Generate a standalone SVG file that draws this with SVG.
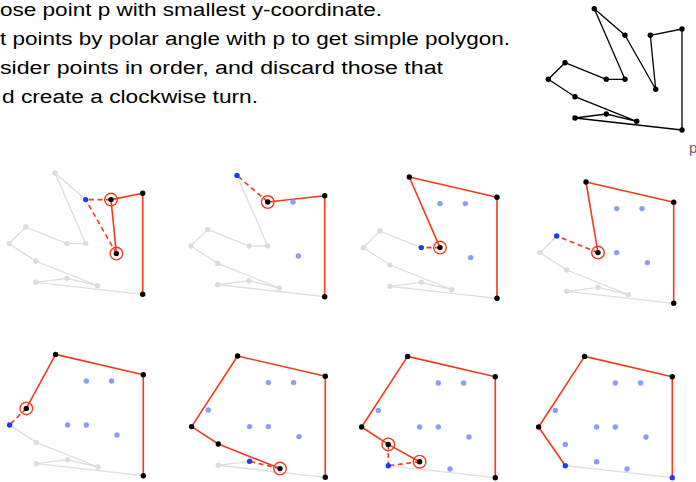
<svg xmlns="http://www.w3.org/2000/svg" width="696" height="482" viewBox="0 0 696 482">
<style>
.t{font-family:"Liberation Sans",Arial,sans-serif;font-size:18px;fill:#000}
.pl{font-family:"Liberation Sans",Arial,sans-serif;font-size:15px;fill:#666}
.bl{fill:none;stroke:#000;stroke-width:1.3;stroke-linejoin:round}
.gl{fill:none;stroke:#dedede;stroke-width:1.3;stroke-linejoin:round}
.rl{fill:none;stroke:#f23a1c;stroke-width:1.6;stroke-linejoin:round}
.rd{fill:none;stroke:#f23a1c;stroke-width:1.6;stroke-dasharray:5 3.5}
.k{fill:#000}
.g{fill:#dcdcdc}
.lb{fill:#8a9cff}
.b{fill:#1f3cf5}
.ring{fill:none;stroke:#f23a1c;stroke-width:1.4}
</style>
<rect width="696" height="482" fill="#fff"/>
<g id="text">
<text class="t" x="0" y="16" textLength="382" lengthAdjust="spacingAndGlyphs">ose point p with smallest y-coordinate.</text>
<text class="t" x="0" y="45" textLength="510" lengthAdjust="spacingAndGlyphs">t points by polar angle with p to get simple polygon.</text>
<text class="t" x="0" y="74" textLength="443" lengthAdjust="spacingAndGlyphs">sider points in order, and discard those that</text>
<text class="t" x="2" y="103" textLength="256" lengthAdjust="spacingAndGlyphs">d create a clockwise turn.</text>
<text class="pl" x="689" y="153">p</text>
</g>
<g id="polygon" transform="translate(682,130)">
<g id="polygon-edges"><polygon class="bl" points="0,0 0,-101 -31.7,-94.7 -26.3,-40.7 -57,-94.7 -87.7,-121.3 -57,-50.7 -75.7,-50.7 -117,-67.3 -133.7,-50.7 -107,-33.3 -45.3,-8.7 -75.7,-16 -107,-12"/></g>
<g id="polygon-points" class="k">
<circle cx="0" cy="0" r="2.7"/><circle cx="0" cy="-101" r="2.7"/><circle cx="-31.7" cy="-94.7" r="2.7"/><circle cx="-26.3" cy="-40.7" r="2.7"/><circle cx="-57" cy="-94.7" r="2.7"/><circle cx="-87.7" cy="-121.3" r="2.7"/><circle cx="-57" cy="-50.7" r="2.7"/><circle cx="-75.7" cy="-50.7" r="2.7"/><circle cx="-117" cy="-67.3" r="2.7"/><circle cx="-133.7" cy="-50.7" r="2.7"/><circle cx="-107" cy="-33.3" r="2.7"/><circle cx="-45.3" cy="-8.7" r="2.7"/><circle cx="-75.7" cy="-16" r="2.7"/><circle cx="-107" cy="-12" r="2.7"/>
</g>
</g>
<g id="step1" transform="translate(142.7,294.3)">
<g id="step1-edges">
<polyline class="gl" points="-57,-94.7 -87.7,-121.3 -57,-50.7 -75.7,-50.7 -117,-67.3 -133.7,-50.7 -107,-33.3 -45.3,-8.7 -75.7,-16 -107,-12 0,0"/>
<polyline class="rl" points="-26.3,-40.7 -31.7,-94.7 0,-101 0,0"/>
<line class="rd" x1="-31.7" y1="-94.7" x2="-57" y2="-94.7"/>
<line class="rd" x1="-26.3" y1="-40.7" x2="-57" y2="-94.7"/>
</g>
<g class="g"><circle cx="-87.7" cy="-121.3" r="2.7"/><circle cx="-57" cy="-50.7" r="2.7"/><circle cx="-75.7" cy="-50.7" r="2.7"/><circle cx="-117" cy="-67.3" r="2.7"/><circle cx="-133.7" cy="-50.7" r="2.7"/><circle cx="-107" cy="-33.3" r="2.7"/><circle cx="-45.3" cy="-8.7" r="2.7"/><circle cx="-75.7" cy="-16" r="2.7"/><circle cx="-107" cy="-12" r="2.7"/></g>
<g class="k"><circle cx="0" cy="0" r="2.7"/><circle cx="0" cy="-101" r="2.7"/><circle cx="-31.7" cy="-94.7" r="2.7"/><circle cx="-26.3" cy="-40.7" r="2.7"/></g>
<circle class="b" cx="-57" cy="-94.7" r="2.7"/>
<circle class="ring" cx="-31.7" cy="-94.7" r="6.3"/><circle class="ring" cx="-26.3" cy="-40.7" r="6.3"/>
</g>
<g id="step2" transform="translate(324.7,296.7)">
<g id="step2-edges">
<polyline class="gl" points="-87.7,-121.3 -57,-50.7 -75.7,-50.7 -117,-67.3 -133.7,-50.7 -107,-33.3 -45.3,-8.7 -75.7,-16 -107,-12 0,0"/>
<polyline class="rl" points="-57,-94.7 0,-101 0,0"/>
<line class="rd" x1="-57" y1="-94.7" x2="-87.7" y2="-121.3"/>
</g>
<g class="g"><circle cx="-57" cy="-50.7" r="2.7"/><circle cx="-75.7" cy="-50.7" r="2.7"/><circle cx="-117" cy="-67.3" r="2.7"/><circle cx="-133.7" cy="-50.7" r="2.7"/><circle cx="-107" cy="-33.3" r="2.7"/><circle cx="-45.3" cy="-8.7" r="2.7"/><circle cx="-75.7" cy="-16" r="2.7"/><circle cx="-107" cy="-12" r="2.7"/></g>
<g class="lb"><circle cx="-31.7" cy="-94.7" r="2.7"/><circle cx="-26.3" cy="-40.7" r="2.7"/></g>
<g class="k"><circle cx="0" cy="0" r="2.7"/><circle cx="0" cy="-101" r="2.7"/><circle cx="-57" cy="-94.7" r="2.7"/></g>
<circle class="b" cx="-87.7" cy="-121.3" r="2.7"/>
<circle class="ring" cx="-57" cy="-94.7" r="6.3"/>
</g>
<g id="step3" transform="translate(497,298.3)">
<g id="step3-edges">
<polyline class="gl" points="-75.7,-50.7 -117,-67.3 -133.7,-50.7 -107,-33.3 -45.3,-8.7 -75.7,-16 -107,-12 0,0"/>
<polyline class="rl" points="-57,-50.7 -87.7,-121.3 0,-101 0,0"/>
<line class="rd" x1="-57" y1="-50.7" x2="-75.7" y2="-50.7"/>
</g>
<g class="g"><circle cx="-117" cy="-67.3" r="2.7"/><circle cx="-133.7" cy="-50.7" r="2.7"/><circle cx="-107" cy="-33.3" r="2.7"/><circle cx="-45.3" cy="-8.7" r="2.7"/><circle cx="-75.7" cy="-16" r="2.7"/><circle cx="-107" cy="-12" r="2.7"/></g>
<g class="lb"><circle cx="-31.7" cy="-94.7" r="2.7"/><circle cx="-26.3" cy="-40.7" r="2.7"/><circle cx="-57" cy="-94.7" r="2.7"/></g>
<g class="k"><circle cx="0" cy="0" r="2.7"/><circle cx="0" cy="-101" r="2.7"/><circle cx="-87.7" cy="-121.3" r="2.7"/><circle cx="-57" cy="-50.7" r="2.7"/></g>
<circle class="b" cx="-75.7" cy="-50.7" r="2.7"/>
<circle class="ring" cx="-57" cy="-50.7" r="6.3"/>
</g>
<g id="step4" transform="translate(673.7,303.3)">
<g id="step4-edges">
<polyline class="gl" points="-117,-67.3 -133.7,-50.7 -107,-33.3 -45.3,-8.7 -75.7,-16 -107,-12 0,0"/>
<polyline class="rl" points="-75.7,-50.7 -87.7,-121.3 0,-101 0,0"/>
<line class="rd" x1="-75.7" y1="-50.7" x2="-117" y2="-67.3"/>
</g>
<g class="g"><circle cx="-133.7" cy="-50.7" r="2.7"/><circle cx="-107" cy="-33.3" r="2.7"/><circle cx="-45.3" cy="-8.7" r="2.7"/><circle cx="-75.7" cy="-16" r="2.7"/><circle cx="-107" cy="-12" r="2.7"/></g>
<g class="lb"><circle cx="-31.7" cy="-94.7" r="2.7"/><circle cx="-26.3" cy="-40.7" r="2.7"/><circle cx="-57" cy="-94.7" r="2.7"/><circle cx="-57" cy="-50.7" r="2.7"/></g>
<g class="k"><circle cx="0" cy="0" r="2.7"/><circle cx="0" cy="-101" r="2.7"/><circle cx="-87.7" cy="-121.3" r="2.7"/><circle cx="-75.7" cy="-50.7" r="2.7"/></g>
<circle class="b" cx="-117" cy="-67.3" r="2.7"/>
<circle class="ring" cx="-75.7" cy="-50.7" r="6.3"/>
</g>
<g id="step5" transform="translate(143.3,475.7)">
<g id="step5-edges">
<polyline class="gl" points="-133.7,-50.7 -107,-33.3 -45.3,-8.7 -75.7,-16 -107,-12 0,0"/>
<polyline class="rl" points="-117,-67.3 -87.7,-121.3 0,-101 0,0"/>
<line class="rd" x1="-117" y1="-67.3" x2="-133.7" y2="-50.7"/>
</g>
<g class="g"><circle cx="-107" cy="-33.3" r="2.7"/><circle cx="-45.3" cy="-8.7" r="2.7"/><circle cx="-75.7" cy="-16" r="2.7"/><circle cx="-107" cy="-12" r="2.7"/></g>
<g class="lb"><circle cx="-31.7" cy="-94.7" r="2.7"/><circle cx="-26.3" cy="-40.7" r="2.7"/><circle cx="-57" cy="-94.7" r="2.7"/><circle cx="-57" cy="-50.7" r="2.7"/><circle cx="-75.7" cy="-50.7" r="2.7"/></g>
<g class="k"><circle cx="0" cy="0" r="2.7"/><circle cx="0" cy="-101" r="2.7"/><circle cx="-87.7" cy="-121.3" r="2.7"/><circle cx="-117" cy="-67.3" r="2.7"/></g>
<circle class="b" cx="-133.7" cy="-50.7" r="2.7"/>
<circle class="ring" cx="-117" cy="-67.3" r="6.3"/>
</g>
<g id="step6" transform="translate(325.3,477.3)">
<g id="step6-edges">
<polyline class="gl" points="-75.7,-16 -107,-12 0,0"/>
<polyline class="rl" points="-45.3,-8.7 -107,-33.3 -133.7,-50.7 -87.7,-121.3 0,-101 0,0"/>
<line class="rd" x1="-45.3" y1="-8.7" x2="-75.7" y2="-16"/>
</g>
<g class="g"><circle cx="-107" cy="-12" r="2.7"/></g>
<g class="lb"><circle cx="-31.7" cy="-94.7" r="2.7"/><circle cx="-26.3" cy="-40.7" r="2.7"/><circle cx="-57" cy="-94.7" r="2.7"/><circle cx="-57" cy="-50.7" r="2.7"/><circle cx="-75.7" cy="-50.7" r="2.7"/><circle cx="-117" cy="-67.3" r="2.7"/></g>
<g class="k"><circle cx="0" cy="0" r="2.7"/><circle cx="0" cy="-101" r="2.7"/><circle cx="-87.7" cy="-121.3" r="2.7"/><circle cx="-133.7" cy="-50.7" r="2.7"/><circle cx="-107" cy="-33.3" r="2.7"/><circle cx="-45.3" cy="-8.7" r="2.7"/></g>
<circle class="b" cx="-75.7" cy="-16" r="2.7"/>
<circle class="ring" cx="-45.3" cy="-8.7" r="6.3"/>
</g>
<g id="step7" transform="translate(495.3,477.7)">
<g id="step7-edges">
<polyline class="gl" points="-107,-12 0,0"/>
<polyline class="rl" points="-75.7,-16 -107,-33.3 -133.7,-50.7 -87.7,-121.3 0,-101 0,0"/>
<line class="rd" x1="-75.7" y1="-16" x2="-107" y2="-12"/>
<line class="rd" x1="-107" y1="-33.3" x2="-107" y2="-12"/>
</g>
<g class="lb"><circle cx="-31.7" cy="-94.7" r="2.7"/><circle cx="-26.3" cy="-40.7" r="2.7"/><circle cx="-57" cy="-94.7" r="2.7"/><circle cx="-57" cy="-50.7" r="2.7"/><circle cx="-75.7" cy="-50.7" r="2.7"/><circle cx="-117" cy="-67.3" r="2.7"/><circle cx="-45.3" cy="-8.7" r="2.7"/></g>
<g class="k"><circle cx="0" cy="0" r="2.7"/><circle cx="0" cy="-101" r="2.7"/><circle cx="-87.7" cy="-121.3" r="2.7"/><circle cx="-133.7" cy="-50.7" r="2.7"/><circle cx="-107" cy="-33.3" r="2.7"/><circle cx="-75.7" cy="-16" r="2.7"/></g>
<circle class="b" cx="-107" cy="-12" r="2.7"/>
<circle class="ring" cx="-107" cy="-33.3" r="6.3"/><circle class="ring" cx="-75.7" cy="-16" r="6.3"/>
</g>
<g id="step8" transform="translate(672.3,477.7)">
<g id="step8-edges">
<polyline class="gl" points="-107,-12 0,0"/>
<polyline class="rl" points="-107,-12 -133.7,-50.7 -87.7,-121.3 0,-101 0,0"/>
</g>
<g class="lb"><circle cx="-31.7" cy="-94.7" r="2.7"/><circle cx="-26.3" cy="-40.7" r="2.7"/><circle cx="-57" cy="-94.7" r="2.7"/><circle cx="-57" cy="-50.7" r="2.7"/><circle cx="-75.7" cy="-50.7" r="2.7"/><circle cx="-117" cy="-67.3" r="2.7"/><circle cx="-107" cy="-33.3" r="2.7"/><circle cx="-45.3" cy="-8.7" r="2.7"/><circle cx="-75.7" cy="-16" r="2.7"/></g>
<g class="k"><circle cx="0" cy="-101" r="2.7"/><circle cx="-87.7" cy="-121.3" r="2.7"/><circle cx="-133.7" cy="-50.7" r="2.7"/></g>
<g class="b"><circle cx="0" cy="0" r="2.7"/><circle cx="-107" cy="-12" r="2.7"/></g>
</g>
</svg>
